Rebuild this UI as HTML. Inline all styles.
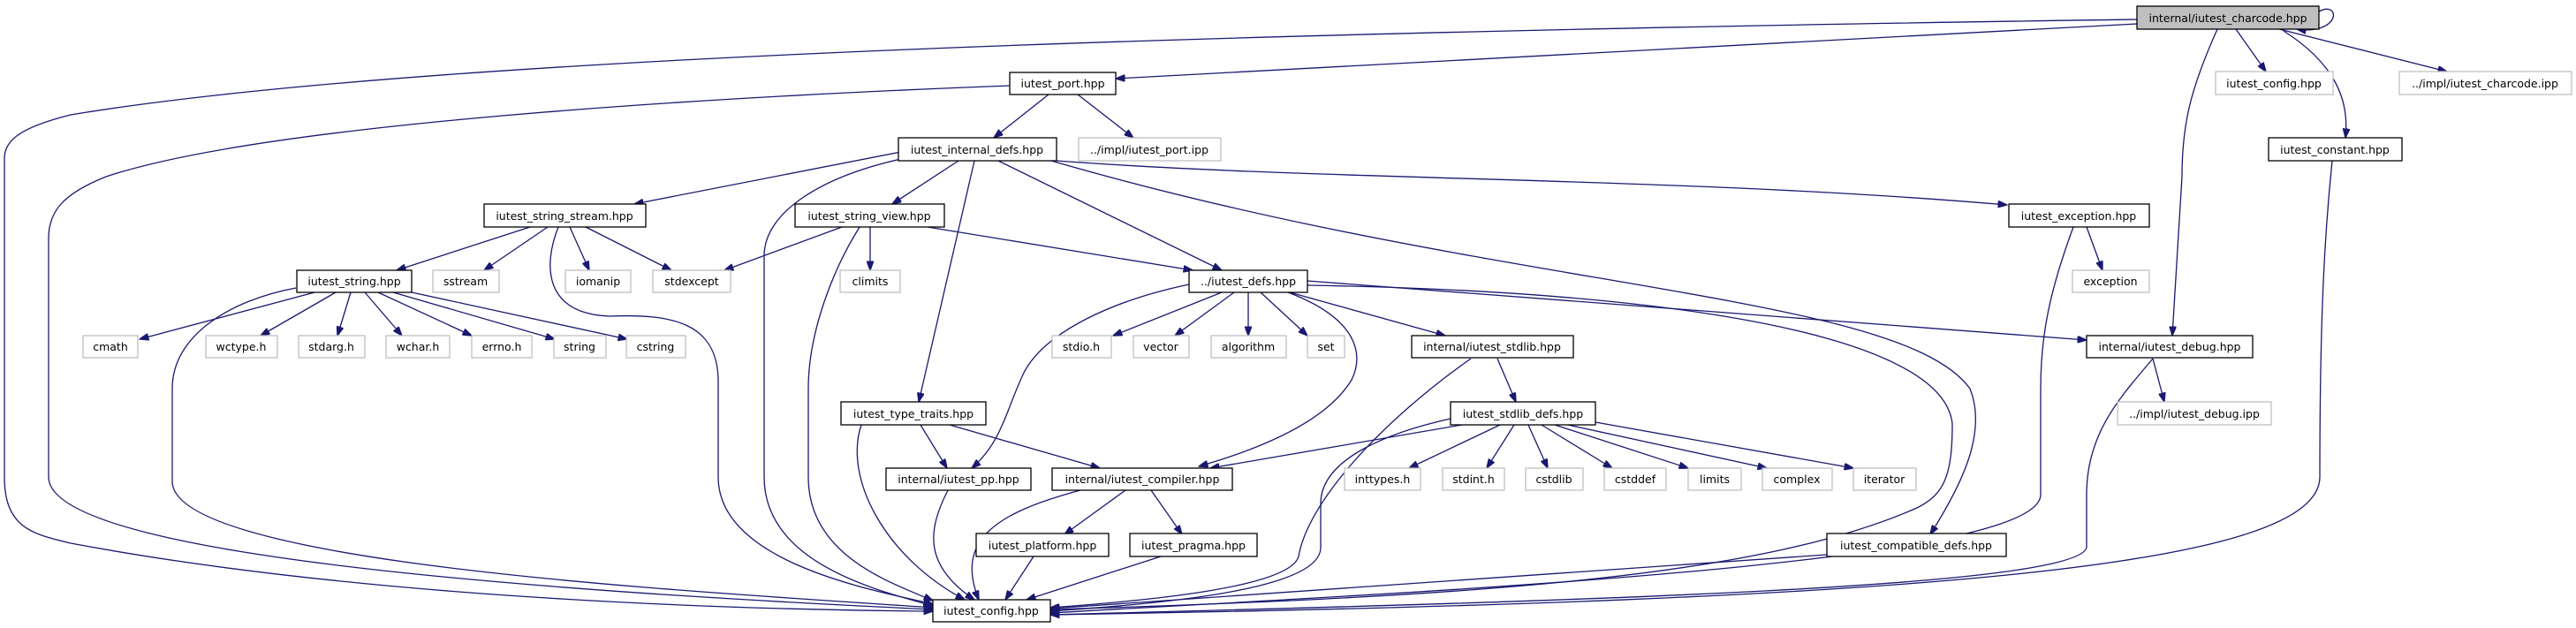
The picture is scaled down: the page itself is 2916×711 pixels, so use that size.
<!DOCTYPE html>
<html><head><meta charset="utf-8"><style>
html,body{margin:0;padding:0;background:#fff;}
svg{display:block;}
text{font-family:"DejaVu Sans","Liberation Sans",sans-serif;font-size:12.5px;fill:#000;}
.e{fill:none;stroke:#191970;stroke-width:1.3;}
.b{fill:#fff;stroke:#000;stroke-width:1.3;}
.g{fill:#fff;stroke:#bfbfbf;stroke-width:1.3;}
</style></head><body>
<svg width="2916" height="711" viewBox="0 0 2916 711" xmlns="http://www.w3.org/2000/svg">
<defs>
<marker id="a" markerWidth="11" markerHeight="8" refX="10.5" refY="4" orient="auto" markerUnits="userSpaceOnUse">
<path d="M0,0 L11,4 L0,8 z" fill="#191970" stroke="#191970"/>
</marker>
</defs>
<g marker-end="url(#a)">
<path class="e" d="M2625,13 C2650,0 2650,40 2600,33"/>
<path class="e" d="M2419,27 L1263,89"/>
<path class="e" d="M2419,22 C1500,35 500,60 80,130 C20,145 5,160 5,180 L5,540 C5,600 40,605 80,615 C400,675 800,690 1056,692"/>
<path class="e" d="M2531,33 L2565,81"/>
<path class="e" d="M2580,33 L2770,81"/>
<path class="e" d="M2585,35 C2640,70 2660,110 2655,156"/>
<path class="e" d="M2510,33 C2480,100 2470,140 2470,200 L2459,380"/>
<path class="e" d="M2640,182 C2632,260 2626,350 2626,540 C2626,640 2200,680 1189,696"/>
<path class="e" d="M1187,107 L1125,156"/>
<path class="e" d="M1220,107 L1283,156"/>
<path class="e" d="M1143,97 C800,110 300,140 120,200 C70,220 55,240 55,270 L55,540 C55,600 300,655 1056,690"/>
<path class="e" d="M1030,170 L718,231"/>
<path class="e" d="M1085,182 L1010,231"/>
<path class="e" d="M1130,182 L1383,306"/>
<path class="e" d="M1103,182 L1040,455"/>
<path class="e" d="M1196,182 C1500,205 1900,200 2272,232"/>
<path class="e" d="M1190,182 C1700,330 2150,330 2230,440 C2250,490 2220,550 2185,605"/>
<path class="e" d="M1020,180 C930,200 865,240 865,290 L865,540 C865,640 1000,670 1056,686"/>
<path class="e" d="M600,257 L449,306"/>
<path class="e" d="M620,257 L548,306"/>
<path class="e" d="M645,257 L667,306"/>
<path class="e" d="M663,257 L760,306"/>
<path class="e" d="M632,257 C615,300 615,355 690,358 C760,355 812,365 813,430 L813,540 C813,640 1000,670 1056,684"/>
<path class="e" d="M953,257 L820,306"/>
<path class="e" d="M985,257 L985,306"/>
<path class="e" d="M1050,257 L1350,306"/>
<path class="e" d="M973,257 C940,310 915,380 915,440 L915,540 C915,630 1010,660 1056,680"/>
<path class="e" d="M356,331 L158,384"/>
<path class="e" d="M380,331 L295,380"/>
<path class="e" d="M397,331 L382,380"/>
<path class="e" d="M413,331 L455,380"/>
<path class="e" d="M428,331 L534,380"/>
<path class="e" d="M445,331 L628,384"/>
<path class="e" d="M466,331 L710,384"/>
<path class="e" d="M335,326 C260,340 195,380 195,440 L195,545 C195,640 800,670 1056,688"/>
<path class="e" d="M1383,331 L1260,380"/>
<path class="e" d="M1397,331 L1330,380"/>
<path class="e" d="M1413,331 L1413,380"/>
<path class="e" d="M1427,331 L1480,380"/>
<path class="e" d="M1460,331 L1636,380"/>
<path class="e" d="M1346,322 C1260,340 1185,375 1160,420 C1140,460 1135,500 1100,530"/>
<path class="e" d="M1458,331 C1535,360 1545,400 1530,430 C1500,480 1420,510 1357,528"/>
<path class="e" d="M1480,318 L2362,385"/>
<path class="e" d="M1480,323 C1900,330 2200,380 2210,480 C2210,540 2200,560 2170,575 C2000,650 1700,675 1189,690"/>
<path class="e" d="M1695,406 L1716,455"/>
<path class="e" d="M1665,406 C1560,480 1480,570 1470,630 C1460,665 1300,680 1189,688"/>
<path class="e" d="M1655,481 L1370,530"/>
<path class="e" d="M1698,481 L1595,530"/>
<path class="e" d="M1714,481 L1683,530"/>
<path class="e" d="M1730,481 L1752,530"/>
<path class="e" d="M1745,481 L1825,530"/>
<path class="e" d="M1760,481 L1911,530"/>
<path class="e" d="M1775,481 L2000,530"/>
<path class="e" d="M1806,478 L2098,530"/>
<path class="e" d="M1642,474 C1570,490 1495,520 1495,570 L1495,620 C1495,670 1300,684 1189,692"/>
<path class="e" d="M1042,481 L1072,530"/>
<path class="e" d="M1075,481 L1245,530"/>
<path class="e" d="M975,481 C955,540 1000,630 1092,679"/>
<path class="e" d="M1073,555 C1050,600 1045,640 1103,679"/>
<path class="e" d="M1274,555 L1205,605"/>
<path class="e" d="M1303,555 L1338,605"/>
<path class="e" d="M1223,555 C1130,580 1080,610 1108,679"/>
<path class="e" d="M1170,630 L1138,679"/>
<path class="e" d="M1314,630 L1162,679"/>
<path class="e" d="M2068,628 L1189,689"/>
<path class="e" d="M2362,257 L2380,306"/>
<path class="e" d="M2347,257 C2320,330 2310,380 2310,440 L2310,560 C2310,640 1600,670 1189,694"/>
<path class="e" d="M2437,406 L2450,455"/>
<path class="e" d="M2437,406 C2400,450 2362,490 2362,560 L2362,620 C2350,665 1800,680 1189,696"/>
</g>
<rect x="2419" y="7" width="206" height="26" fill="#bfbfbf" stroke="#000" stroke-width="1.3"/>
<text x="2522" y="25" text-anchor="middle">internal/iutest_charcode.hpp</text>
<rect class="g" x="2508" y="81" width="133" height="26"/><text x="2574" y="99" text-anchor="middle">iutest_config.hpp</text>
<rect class="g" x="2716" y="81" width="195" height="26"/><text x="2813" y="99" text-anchor="middle">../impl/iutest_charcode.ipp</text>
<rect class="b" x="2568" y="156" width="151" height="26"/><text x="2643" y="174" text-anchor="middle">iutest_constant.hpp</text>
<rect class="b" x="1143" y="82" width="120" height="25"/><text x="1203" y="99" text-anchor="middle">iutest_port.hpp</text>
<rect class="b" x="1017" y="156" width="179" height="26"/><text x="1106" y="174" text-anchor="middle">iutest_internal_defs.hpp</text>
<rect class="g" x="1221" y="156" width="161" height="26"/><text x="1301" y="174" text-anchor="middle">../impl/iutest_port.ipp</text>
<rect class="b" x="548" y="231" width="183" height="26"/><text x="639" y="249" text-anchor="middle">iutest_string_stream.hpp</text>
<rect class="b" x="900" y="231" width="169" height="26"/><text x="984" y="249" text-anchor="middle">iutest_string_view.hpp</text>
<rect class="b" x="2274" y="231" width="159" height="26"/><text x="2353" y="249" text-anchor="middle">iutest_exception.hpp</text>
<rect class="b" x="336" y="306" width="130" height="25"/><text x="401" y="323" text-anchor="middle">iutest_string.hpp</text>
<rect class="g" x="490" y="306" width="75" height="25"/><text x="527" y="323" text-anchor="middle">sstream</text>
<rect class="g" x="640" y="306" width="74" height="25"/><text x="677" y="323" text-anchor="middle">iomanip</text>
<rect class="g" x="739" y="306" width="88" height="25"/><text x="783" y="323" text-anchor="middle">stdexcept</text>
<rect class="g" x="951" y="306" width="68" height="25"/><text x="985" y="323" text-anchor="middle">climits</text>
<rect class="b" x="1346" y="306" width="134" height="25"/><text x="1413" y="323" text-anchor="middle">../iutest_defs.hpp</text>
<rect class="g" x="2346" y="306" width="87" height="25"/><text x="2389" y="323" text-anchor="middle">exception</text>
<rect class="g" x="94" y="380" width="62" height="25"/><text x="125" y="397" text-anchor="middle">cmath</text>
<rect class="g" x="233" y="380" width="81" height="25"/><text x="273" y="397" text-anchor="middle">wctype.h</text>
<rect class="g" x="338" y="380" width="75" height="25"/><text x="375" y="397" text-anchor="middle">stdarg.h</text>
<rect class="g" x="437" y="380" width="72" height="25"/><text x="473" y="397" text-anchor="middle">wchar.h</text>
<rect class="g" x="534" y="380" width="68" height="25"/><text x="568" y="397" text-anchor="middle">errno.h</text>
<rect class="g" x="627" y="380" width="59" height="25"/><text x="656" y="397" text-anchor="middle">string</text>
<rect class="g" x="709" y="380" width="67" height="25"/><text x="742" y="397" text-anchor="middle">cstring</text>
<rect class="g" x="1191" y="380" width="67" height="25"/><text x="1224" y="397" text-anchor="middle">stdio.h</text>
<rect class="g" x="1283" y="380" width="63" height="25"/><text x="1314" y="397" text-anchor="middle">vector</text>
<rect class="g" x="1371" y="380" width="85" height="25"/><text x="1413" y="397" text-anchor="middle">algorithm</text>
<rect class="g" x="1480" y="380" width="42" height="25"/><text x="1501" y="397" text-anchor="middle">set</text>
<rect class="b" x="1598" y="380" width="183" height="25"/><text x="1689" y="397" text-anchor="middle">internal/iutest_stdlib.hpp</text>
<rect class="b" x="2362" y="380" width="188" height="25"/><text x="2456" y="397" text-anchor="middle">internal/iutest_debug.hpp</text>
<rect class="b" x="952" y="455" width="164" height="26"/><text x="1034" y="473" text-anchor="middle">iutest_type_traits.hpp</text>
<rect class="b" x="1642" y="455" width="164" height="26"/><text x="1724" y="473" text-anchor="middle">iutest_stdlib_defs.hpp</text>
<rect class="g" x="2397" y="455" width="174" height="26"/><text x="2484" y="473" text-anchor="middle">../impl/iutest_debug.ipp</text>
<rect class="b" x="1003" y="530" width="164" height="25"/><text x="1085" y="547" text-anchor="middle">internal/iutest_pp.hpp</text>
<rect class="b" x="1191" y="530" width="204" height="25"/><text x="1293" y="547" text-anchor="middle">internal/iutest_compiler.hpp</text>
<rect class="g" x="1522" y="530" width="86" height="25"/><text x="1565" y="547" text-anchor="middle">inttypes.h</text>
<rect class="g" x="1633" y="530" width="70" height="25"/><text x="1668" y="547" text-anchor="middle">stdint.h</text>
<rect class="g" x="1727" y="530" width="65" height="25"/><text x="1759" y="547" text-anchor="middle">cstdlib</text>
<rect class="g" x="1816" y="530" width="70" height="25"/><text x="1851" y="547" text-anchor="middle">cstddef</text>
<rect class="g" x="1911" y="530" width="60" height="25"/><text x="1941" y="547" text-anchor="middle">limits</text>
<rect class="g" x="1995" y="530" width="79" height="25"/><text x="2034" y="547" text-anchor="middle">complex</text>
<rect class="g" x="2098" y="530" width="71" height="25"/><text x="2133" y="547" text-anchor="middle">iterator</text>
<rect class="b" x="1105" y="604" width="150" height="26"/><text x="1180" y="622" text-anchor="middle">iutest_platform.hpp</text>
<rect class="b" x="1279" y="604" width="144" height="26"/><text x="1351" y="622" text-anchor="middle">iutest_pragma.hpp</text>
<rect class="b" x="2068" y="604" width="203" height="26"/><text x="2169" y="622" text-anchor="middle">iutest_compatible_defs.hpp</text>
<rect class="b" x="1056" y="679" width="133" height="25"/><text x="1122" y="696" text-anchor="middle">iutest_config.hpp</text>
</svg>
</body></html>
